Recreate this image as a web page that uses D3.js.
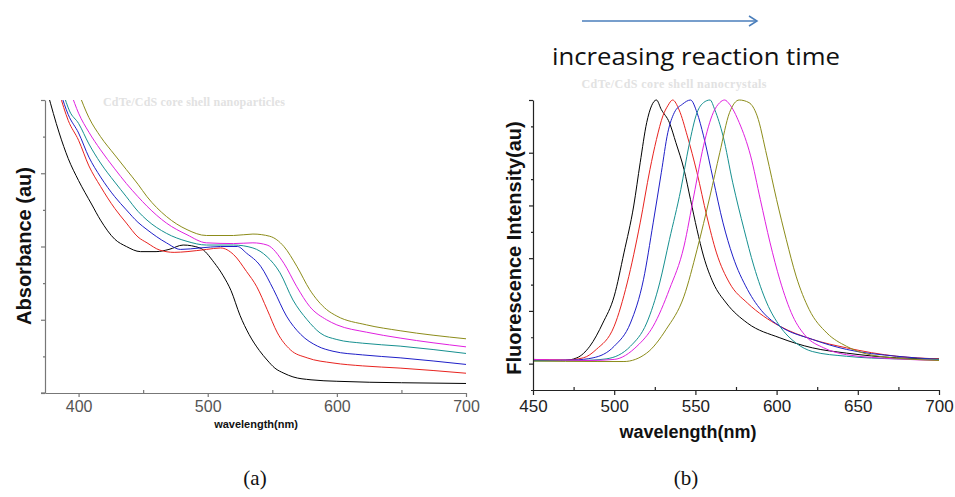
<!DOCTYPE html>
<html>
<head>
<meta charset="utf-8">
<script src="https://cdn.jsdelivr.net/npm/d3@7"></script>
<style>
  body { margin: 0; background: #fff; }
  svg { display: block; }
</style>
</head>
<body>
<div id="chart"></div>
<script>
// ---- datos ----
// colores de las 6 muestras (tiempo de reacción creciente)
const seriesColors = ["#000000", "#e8231f", "#1f1fc8", "#169090", "#e020e0", "#8c8c1a"];

// (a) absorbancia, [longitud de onda nm, valor relativo 0..4]
const absBlack = [[376,4.1],[385,3.55],[392,3.2],[400,2.9],[410,2.58],[417,2.36],[428,2.1],[437,2.0],[448,1.93],[460,1.93],[470,1.96],[481,2.02],[494,1.98],[505,1.78],[512,1.6],[518,1.4],[525,1.06],[532,0.8],[540,0.58],[546,0.45],[552,0.34],[559,0.27],[566,0.22],[580,0.18],[600,0.16],[650,0.14],[700,0.13]];
const absRed = [[385,4.1],[392,3.72],[400,3.45],[408,3.1],[417,2.82],[428,2.52],[437,2.32],[446,2.13],[453,2.05],[463,1.95],[474,1.92],[484,1.93],[499,1.96],[510,1.98],[520,1.89],[530,1.66],[538,1.45],[546,1.14],[554,0.82],[564,0.59],[577,0.48],[597,0.41],[620,0.37],[649,0.34],[700,0.27]];
const absBlue = [[386,4.1],[392,3.8],[400,3.55],[408,3.22],[417,2.95],[428,2.68],[437,2.5],[446,2.33],[453,2.23],[468,2.05],[479,1.96],[494,1.98],[510,2.0],[523,2.0],[530,1.91],[541,1.73],[551,1.41],[561,1.05],[572,0.8],[585,0.64],[597,0.57],[620,0.52],[649,0.48],[700,0.39]];
const absTeal = [[388,4.1],[393,3.85],[400,3.68],[408,3.4],[417,3.14],[428,2.88],[437,2.68],[446,2.48],[453,2.36],[468,2.18],[484,2.07],[499,2.02],[520,2.02],[535,1.98],[546,1.86],[556,1.64],[566,1.27],[577,1.0],[587,0.82],[600,0.73],[620,0.68],[649,0.64],[700,0.54]];
const absMagenta = [[394,4.1],[400,3.82],[408,3.56],[417,3.32],[428,3.06],[437,2.86],[446,2.68],[453,2.55],[468,2.32],[484,2.16],[499,2.05],[520,2.04],[535,2.05],[546,2.02],[559,1.77],[569,1.45],[579,1.18],[592,1.0],[600,0.93],[623,0.83],[649,0.75],[700,0.63]];
const absOlive = [[400,4.1],[408,3.76],[417,3.5],[428,3.25],[437,3.05],[446,2.85],[453,2.68],[468,2.41],[484,2.23],[499,2.15],[520,2.15],[535,2.17],[548,2.14],[559,2.0],[569,1.73],[579,1.41],[592,1.14],[600,1.05],[623,0.93],[649,0.85],[700,0.74]];
const absSeries = [absBlack, absRed, absBlue, absTeal, absMagenta, absOlive];

// (b) fluorescencia normalizada, [nm, valor 0..5]
const flBlack = [[450,0.06],[469,0.06],[477,0.11],[485,0.33],[493,0.77],[500,1.28],[506,2.1],[512,2.99],[516,3.81],[520,4.57],[523,4.89],[526,5.0],[529,4.82],[534,4.57],[538,4.19],[543,3.68],[547,3.11],[551,2.54],[555,2.04],[561,1.53],[569,1.15],[582,0.77],[602,0.49],[622,0.3],[643,0.2],[674,0.11],[700,0.09]];
const flRed = [[450,0.08],[470,0.07],[481,0.11],[489,0.27],[500,0.71],[508,1.53],[516,2.67],[522,3.68],[526,4.25],[530,4.7],[533,4.89],[536,5.0],[540,4.81],[545,4.32],[551,3.62],[557,2.8],[563,2.1],[571,1.53],[582,1.15],[592,0.9],[602,0.71],[622,0.46],[643,0.3],[674,0.14],[700,0.09]];
const flBlue = [[450,0.06],[475,0.07],[487,0.11],[500,0.33],[510,0.77],[518,1.59],[524,2.67],[529,3.62],[533,4.38],[537,4.76],[542,4.92],[547,5.0],[551,4.76],[555,4.32],[561,3.49],[567,2.67],[573,2.04],[582,1.41],[592,0.96],[602,0.71],[622,0.46],[643,0.27],[674,0.14],[700,0.08]];
const flTeal = [[450,0.05],[480,0.06],[495,0.09],[510,0.33],[520,0.77],[528,1.53],[534,2.35],[541,3.3],[546,4.13],[551,4.76],[555,4.95],[559,5.0],[562,4.81],[567,4.32],[573,3.43],[580,2.54],[586,1.85],[594,1.15],[602,0.71],[612,0.39],[622,0.23],[643,0.14],[674,0.09],[700,0.08]];
const flMagenta = [[450,0.08],[485,0.06],[500,0.08],[514,0.33],[524,0.71],[534,1.41],[543,2.23],[549,3.18],[555,4.13],[561,4.76],[565,4.95],[568,5.0],[571,4.92],[577,4.57],[584,3.94],[590,3.11],[596,2.29],[602,1.59],[610,0.9],[618,0.52],[629,0.3],[643,0.17],[674,0.09],[700,0.06]];
const flOlive = [[450,0.05],[490,0.04],[506,0.04],[520,0.2],[532,0.65],[543,1.28],[551,2.16],[559,3.18],[565,4.0],[571,4.76],[577,5.0],[583,4.95],[588,4.7],[594,3.94],[600,3.11],[606,2.35],[612,1.66],[620,1.03],[631,0.58],[643,0.33],[663,0.14],[700,0.06]];
const flSeries = [flBlack, flRed, flBlue, flTeal, flMagenta, flOlive];

// ticks
const absXTicks = [400, 500, 600, 700];
const absXMinor = [450, 550, 650];
const absYTicks = [0, 1, 2, 3, 4];
const absYMinor = [0.5, 1.5, 2.5, 3.5];
const flXTicks = [450, 500, 550, 600, 650, 700];
const flXMinor = [475, 525, 575, 625, 675];
const flYTicks = [0, 1, 2, 3, 4, 5];
const flYMinor = [-0.5, 0.5, 1.5, 2.5, 3.5, 4.5];

// ---- lienzo ----
const W = 955, H = 497;
const svg = d3.select("#chart").append("svg")
  .attr("width", W).attr("height", H);
svg.append("rect").attr("width", W).attr("height", H).attr("fill", "#fff");

// ================= panel (a) =================
const xa = d3.scaleLinear().domain([374, 700]).range([45, 466]);
const ya = d3.scaleLinear().domain([0, 4]).range([393, 100]);

svg.append("clipPath").attr("id", "clipA")
  .append("rect").attr("x", 45).attr("y", 100).attr("width", 421).attr("height", 293);

svg.append("text")
  .attr("x", 194).attr("y", 106)
  .attr("text-anchor", "middle")
  .attr("font-family", "Liberation Serif, serif")
  .attr("font-size", 12).attr("font-weight", "bold")
  .attr("fill", "#e2e2e2")
  .attr("textLength", 182)
  .text("CdTe/CdS core shell nanoparticles");

const lineA = d3.line().x(d => xa(d[0])).y(d => ya(d[1])).curve(d3.curveMonotoneX);
svg.append("g").attr("clip-path", "url(#clipA)")
  .selectAll("path").data(absSeries).join("path")
    .attr("fill", "none")
    .attr("stroke", (d, i) => seriesColors[i])
    .attr("stroke-width", 1)
    .attr("d", lineA);

const axA = svg.append("g").attr("class", "axA");
// eje x
axA.append("g").attr("transform", "translate(0,393)")
  .call(d3.axisBottom(xa).tickValues(absXTicks).tickSize(4).tickSizeOuter(0).tickPadding(4));
axA.append("g").attr("transform", "translate(0,393)")
  .call(d3.axisBottom(xa).tickValues(absXMinor).tickSize(-3).tickSizeOuter(0).tickFormat(""))
  .select(".domain").remove();
axA.append("line").attr("x1", 41).attr("x2", 45).attr("y1", 393).attr("y2", 393);
// eje y
axA.append("g").attr("transform", "translate(45,0)")
  .call(d3.axisLeft(ya).tickValues(absYTicks).tickSize(4).tickSizeOuter(0).tickFormat(""));
axA.append("g").attr("transform", "translate(45,0)")
  .call(d3.axisLeft(ya).tickValues(absYMinor).tickSize(2).tickSizeOuter(0).tickFormat(""))
  .select(".domain").remove();

axA.selectAll("path, line").attr("stroke", "#777").attr("stroke-width", 1.2);
axA.selectAll("text")
  .attr("font-family", "Liberation Sans, Arial, sans-serif")
  .attr("font-size", 16).attr("fill", "#555");

svg.append("text")
  .attr("x", 256).attr("y", 428)
  .attr("text-anchor", "middle")
  .attr("font-family", "Liberation Sans, Arial, sans-serif")
  .attr("font-size", 11).attr("font-weight", "bold").attr("fill", "#111")
  .text("wavelength(nm)");

svg.append("text")
  .attr("transform", "translate(31,246) rotate(-90)")
  .attr("text-anchor", "middle")
  .attr("font-family", "Liberation Sans, Arial, sans-serif")
  .attr("font-size", 20).attr("font-weight", "bold").attr("fill", "#111")
  .text("Absorbance (au)");

// ================= panel (b) =================
const xb = d3.scaleLinear().domain([450, 700]).range([533, 939]);
const yb = d3.scaleLinear().domain([-0.5, 5]).range([390, 100]);

svg.append("text")
  .attr("x", 674).attr("y", 88)
  .attr("text-anchor", "middle")
  .attr("font-family", "Liberation Serif, serif")
  .attr("font-size", 12).attr("font-weight", "bold")
  .attr("fill", "#e2e2e2")
  .attr("textLength", 185)
  .text("CdTe/CdS core shell nanocrystals");

const lineB = d3.line().x(d => xb(d[0])).y(d => yb(d[1])).curve(d3.curveMonotoneX);
svg.append("g")
  .selectAll("path").data(flSeries).join("path")
    .attr("fill", "none")
    .attr("stroke", (d, i) => seriesColors[i])
    .attr("stroke-width", 1)
    .attr("d", lineB);

const axB = svg.append("g").attr("class", "axB");
axB.append("g").attr("transform", "translate(0,390)")
  .call(d3.axisBottom(xb).tickValues(flXTicks).tickSize(5).tickSizeOuter(0).tickPadding(5));
axB.append("g").attr("transform", "translate(0,390)")
  .call(d3.axisBottom(xb).tickValues(flXMinor).tickSize(-3).tickSizeOuter(0).tickFormat(""))
  .select(".domain").remove();
axB.append("g").attr("transform", "translate(533,0)")
  .call(d3.axisLeft(yb).tickValues(flYTicks).tickSize(4).tickSizeOuter(0).tickFormat(""));
axB.append("g").attr("transform", "translate(533,0)")
  .call(d3.axisLeft(yb).tickValues(flYMinor).tickSize(2).tickSizeOuter(0).tickFormat(""))
  .select(".domain").remove();

axB.selectAll("path, line").attr("stroke", "#222").attr("stroke-width", 1.2);
axB.selectAll("text")
  .attr("font-family", "Liberation Sans, Arial, sans-serif")
  .attr("font-size", 17).attr("fill", "#222");

svg.append("text")
  .attr("x", 688).attr("y", 438)
  .attr("text-anchor", "middle")
  .attr("font-family", "Liberation Sans, Arial, sans-serif")
  .attr("font-size", 18).attr("font-weight", "bold").attr("fill", "#111")
  .text("wavelength(nm)");

svg.append("text")
  .attr("transform", "translate(521,248) rotate(-90)")
  .attr("text-anchor", "middle")
  .attr("font-family", "Liberation Sans, Arial, sans-serif")
  .attr("font-size", 20).attr("font-weight", "bold").attr("fill", "#111")
  .text("Fluorescence Intensity(au)");

// ---- flecha y leyenda superior ----
svg.append("line")
  .attr("x1", 582).attr("x2", 757).attr("y1", 21).attr("y2", 21)
  .attr("stroke", "#4a7ebb").attr("stroke-width", 1.5);
svg.append("path")
  .attr("d", "M749,16 L757,21 L749,26")
  .attr("fill", "none").attr("stroke", "#4a7ebb").attr("stroke-width", 1.5);

svg.append("text")
  .attr("x", 696).attr("y", 65)
  .attr("text-anchor", "middle")
  .attr("font-family", "Open Sans, sans-serif")
  .attr("font-size", 23).attr("fill", "#111")
  .attr("textLength", 288).attr("lengthAdjust", "spacingAndGlyphs")
  .text("increasing reaction time");

// ---- etiquetas (a) (b) ----
[["(a)", 255], ["(b)", 686]].forEach(([t, x]) => {
  svg.append("text")
    .attr("x", x).attr("y", 485)
    .attr("text-anchor", "middle")
    .attr("font-family", "Liberation Serif, Times New Roman, serif")
    .attr("font-size", 21).attr("fill", "#111")
    .text(t);
});
</script>
</body>
</html>
